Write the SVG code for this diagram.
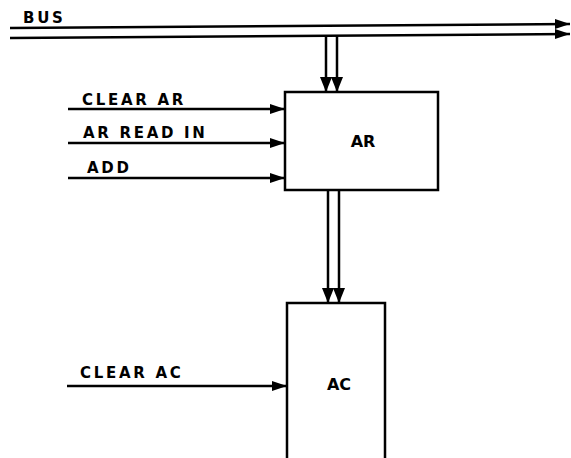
<svg xmlns="http://www.w3.org/2000/svg" width="571" height="458" viewBox="0 0 571 458">
<defs>
<marker id="ah" markerUnits="userSpaceOnUse" markerWidth="16" markerHeight="12" refX="15" refY="5" orient="auto">
<path d="M0,0 L15,5 L0,10 Z" fill="#000"/>
</marker>
<marker id="ahv" markerUnits="userSpaceOnUse" markerWidth="16" markerHeight="13" refX="15" refY="6" orient="auto">
<path d="M0,0 L15,6 L0,12 Z" fill="#000"/>
</marker>
<style>
.ln{stroke:#000;stroke-width:2.5;fill:none}
.box{stroke:#000;stroke-width:2.5;fill:#fff}
.lbl{font-family:"DejaVu Sans","Liberation Sans",sans-serif;font-weight:bold;font-size:15px;letter-spacing:2.7px;fill:#000}
.nm{font-family:"DejaVu Sans","Liberation Sans",sans-serif;font-weight:bold;font-size:16px;fill:#000;text-anchor:middle}
</style>
</defs>
<rect width="571" height="458" fill="#fff"/>
<g id="connectors">
<line class="ln" x1="10" y1="28" x2="570" y2="24" marker-end="url(#ah)"/>
<line class="ln" x1="10" y1="38" x2="570" y2="34" marker-end="url(#ah)"/>
<line class="ln" x1="326" y1="36" x2="326" y2="92" marker-end="url(#ahv)"/>
<line class="ln" x1="337" y1="36" x2="337" y2="92" marker-end="url(#ahv)"/>
<line class="ln" x1="328" y1="190" x2="328" y2="303" marker-end="url(#ahv)"/>
<line class="ln" x1="339" y1="190" x2="339" y2="303" marker-end="url(#ahv)"/>
<line class="ln" x1="68" y1="109" x2="285" y2="109" marker-end="url(#ah)"/>
<line class="ln" x1="68" y1="143" x2="285" y2="143" marker-end="url(#ah)"/>
<line class="ln" x1="68" y1="178" x2="285" y2="178" marker-end="url(#ah)"/>
<line class="ln" x1="67" y1="386" x2="287" y2="386" marker-end="url(#ah)"/>
</g>
<text class="lbl" x="23" y="23">BUS</text>
<text class="lbl" x="82" y="105">CLEAR AR</text>
<text class="lbl" x="83" y="138">AR READ IN</text>
<text class="lbl" x="87" y="173">ADD</text>
<text class="lbl" x="80" y="378">CLEAR AC</text>
<g id="AR">
<rect class="box" x="285" y="92" width="153" height="98"/>
<text class="nm" x="363" y="147">AR</text>
</g>
<g id="AC">
<path class="box" d="M287,462 L287,303 L385,303 L385,462"/>
<text class="nm" x="339" y="390">AC</text>
</g>
</svg>
